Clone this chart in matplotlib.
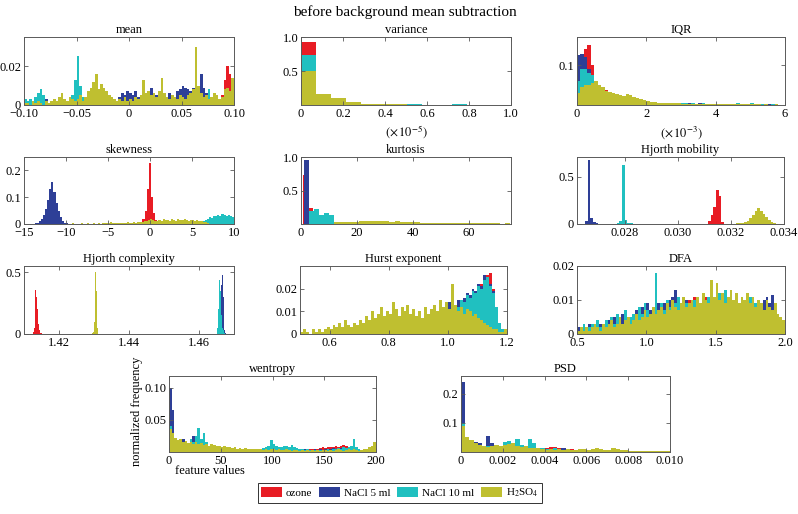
import numpy as np
import matplotlib
matplotlib.use('Agg')
import matplotlib.pyplot as plt
from matplotlib.patches import Patch

plt.rcParams['font.family'] = ['Liberation Serif', 'DejaVu Serif']
plt.rcParams['mathtext.fontset'] = 'stix'

series_names = ['ozone', 'NaCl 5 ml', 'NaCl 10 ml', r'H$_2$SO$_4$']
series_colors = ['#e81c24', '#2e3f97', '#20c0c0', '#bfbf30']

# ---- mean (bins of 0.0025 from -0.1)
mean_lo, mean_w = -0.1, 0.0025
mean_red = [0]*70 + [0, 0.004, 0.006, 0.005, 0.002, 0.005, 0.013, 0.020, 0.016, 0.012]
mean_blue = [0, 0, 0, 0, 0, 0, 0, 0, 0.003, 0,
             0.001, 0, 0, 0, 0, 0, 0, 0, 0, 0,
             0, 0, 0, 0, 0, 0, 0, 0, 0, 0,
             0, 0, 0, 0, 0, 0, 0.004, 0.006, 0.005, 0.007,
             0.006, 0.005, 0.007, 0.004, 0.003, 0.006, 0.004, 0.007, 0.009, 0.006,
             0.005, 0.004, 0.005, 0.003, 0.004, 0.006, 0.005, 0.004, 0.007, 0.008,
             0.010, 0.009, 0.008, 0.007, 0.009, 0.012, 0.010, 0.016, 0.009, 0.006,
             0.004, 0.002, 0, 0, 0, 0, 0, 0, 0, 0]
mean_cyan = [0.003, 0.002, 0.003, 0.002, 0.004, 0.006, 0.008, 0.005, 0.002, 0.001,
             0, 0.001, 0, 0.002, 0.001, 0, 0.001, 0.002, 0.005, 0.013,
             0.025, 0.010, 0.004, 0.003, 0.001, 0, 0, 0.001, 0, 0,
             0, 0, 0, 0.001, 0, 0, 0, 0, 0, 0] + [0]*29 + [0.004, 0.008, 0.003] + [0]*8
mean_olive = [0.001, 0.001, 0, 0.002, 0.001, 0.002, 0.001, 0, 0.002, 0.001,
              0.002, 0.003, 0.002, 0.004, 0.006, 0.003, 0.002, 0.004, 0.003, 0.002,
              0.003, 0.005, 0.002, 0.004, 0.007, 0.009, 0.012, 0.016, 0.008, 0.011,
              0.009, 0.007, 0.005, 0.004, 0.003, 0.002, 0.003, 0.002, 0.004, 0.002,
              0.003, 0.002, 0.004, 0.003, 0.005, 0.013, 0.006, 0.007, 0.005, 0.006,
              0.004, 0.007, 0.014, 0.006, 0.004, 0.003, 0.005, 0.004, 0.003, 0.005,
              0.004, 0.003, 0.005, 0.006, 0.008, 0.030, 0.010, 0.006, 0.004, 0.005,
              0.003, 0.004, 0.006, 0.005, 0.003, 0.004, 0.008, 0.009, 0.007, 0.014]

# ---- variance (x in units of 1e-5)
var_lo, var_w = 0.0, 0.072
var_red = [0.92, 0.03, 0.03, 0.01, 0.005, 0.003, 0.002, 0.001, 0, 0, 0, 0]
var_blue = [0.70, 0.05, 0.04, 0.03, 0.01, 0.01, 0.005, 0.005, 0.004, 0.003, 0.002, 0.002]
var_cyan = [0.73, 0.05, 0.03, 0.02, 0.015, 0.015, 0.01, 0.01, 0.005, 0.005, 0.008, 0.006]
var_olive = [0.50, 0.16, 0.11, 0.05, 0.02, 0.01, 0.01, 0.005, 0.005, 0.005, 0.003, 0.003]

# ---- IQR (x in units of 1e-3)
iqr_lo, iqr_w = 0.0, 0.1
iqr_red = [0, 0.12, 0.14, 0.15, 0.10, 0.06, 0.04, 0.03, 0.038, 0.025,
           0.015, 0.012, 0.01, 0.009, 0.008, 0.007, 0.006, 0.005, 0.005, 0.004,
           0.004, 0.003, 0.003, 0.003, 0.002, 0.002, 0.002, 0.002, 0.001, 0.001,
           0.001, 0.001, 0, 0.001, 0, 0.001, 0, 0, 0.001, 0] + [0]*20
iqr_blue = [0.125, 0.127, 0.12, 0.09, 0.07, 0.05, 0.04, 0.03, 0.025, 0.022,
            0.02, 0.018, 0.015, 0.013, 0.011, 0.01, 0.009, 0.008, 0.007, 0.006,
            0.006, 0.005, 0.005, 0.006, 0.005, 0.004, 0.005, 0.004, 0.004, 0.006,
            0.004, 0.003, 0.004, 0.003, 0.003, 0.004, 0.003, 0.003, 0.002, 0.003,
            0.003, 0.002, 0.003, 0.002, 0.003, 0.002, 0.002, 0.003, 0.002, 0.002,
            0.002, 0.002, 0.001, 0.002, 0.001, 0.002, 0.001, 0.001, 0.001, 0.001]
iqr_cyan = [0.06, 0.09, 0.09, 0.08, 0.075, 0.06, 0.05, 0.04, 0.035, 0.03,
            0.025, 0.022, 0.02, 0.017, 0.015, 0.013, 0.012, 0.01, 0.009, 0.008,
            0.007, 0.007, 0.006, 0.006, 0.005, 0.005, 0.005, 0.004, 0.004, 0.005,
            0.004, 0.004, 0.003, 0.004, 0.003, 0.003, 0.004, 0.003, 0.003, 0.003,
            0.003, 0.003, 0.002, 0.003, 0.003, 0.002, 0.005, 0.003, 0.002, 0.003,
            0.005, 0.002, 0.002, 0.002, 0.002, 0.001, 0.002, 0.001, 0.001, 0.001]
iqr_olive = [0.03, 0.045, 0.05, 0.05, 0.055, 0.06, 0.05, 0.045, 0.035, 0.033,
             0.03, 0.028, 0.025, 0.022, 0.027, 0.025, 0.02, 0.018, 0.016, 0.012,
             0.01, 0.008, 0.007, 0.006, 0.006, 0.005, 0.005, 0.004, 0.004, 0.004,
             0.003, 0.003, 0.003, 0.003, 0.003, 0.003, 0.002, 0.003, 0.002, 0.002,
             0.002, 0.002, 0.002, 0.002, 0.002, 0.002, 0.002, 0.002, 0.002, 0.002,
             0.002, 0.002, 0.002, 0.001, 0.002, 0.001, 0.001, 0.002, 0.001, 0.001]

# ---- skewness (bins of 0.25)
skew_w = 0.25
skew_red_start = -1.4
skew_red = [0.003, 0.008, 0.02, 0.05, 0.13, 0.228, 0.10, 0.04, 0.015, 0.005]
skew_blue_start = -13.75
skew_blue = [0.002, 0.005, 0.012, 0.02, 0.035, 0.055, 0.09, 0.13, 0.155, 0.12,
             0.08, 0.05, 0.025, 0.01, 0.004, 0.002]
skew_cyan_start = 5.5
skew_cyan = [0.003, 0.005, 0.008, 0.012, 0.015, 0.02, 0.025, 0.022, 0.03, 0.028,
             0.035, 0.03, 0.038, 0.032, 0.028, 0.035, 0.03, 0.025]
skew_olive_start = -10.0
skew_olive = [0.001, 0.0, 0.001, 0.002, 0.001, 0.0, 0.001, 0.002, 0.001, 0.001,
              0.002, 0.001, 0.0, 0.002, 0.001, 0.002, 0.001, 0.002, 0.003, 0.002,
              0.004, 0.007, 0.003, 0.002, 0.003, 0.004, 0.003, 0.005, 0.004, 0.006,
              0.005, 0.004, 0.006, 0.005, 0.008, 0.007, 0.009, 0.01, 0.012, 0.015,
              0.018, 0.014, 0.01, 0.012, 0.015, 0.013, 0.017, 0.014,
              0.016, 0.013, 0.018, 0.015, 0.012, 0.017, 0.014, 0.016,
              0.018, 0.015, 0.013, 0.016, 0.014, 0.012, 0.015, 0.013,
              0.01, 0.008, 0.006, 0.004]

# ---- kurtosis (bins of 1.8)
kurt_w = 1.8
kurt_red_start = 0.6
kurt_red = [0.73, 0.24, 0.02, 0.01, 0.005]
kurt_blue_start = 1.0
kurt_blue = [0.96, 0.03, 0.01]
kurt_cyan_start = 2.8
kurt_cyan = [0.19, 0.22, 0.14, 0.16, 0.13, 0.03, 0.02, 0.015, 0.01]
kurt_olive_start = 11.8
kurt_olive = [0.03, 0.035, 0.03, 0.032, 0.035, 0.04, 0.038, 0.045, 0.05, 0.042,
              0.04, 0.036, 0.038, 0.034, 0.03, 0.028, 0.025, 0.022, 0.02, 0.018,
              0.02, 0.016, 0.015, 0.018, 0.012, 0.014, 0.01, 0.012, 0.01, 0.008,
              0.01, 0.008, 0.009, 0.007, 0.008]

# ---- Hjorth mobility (bins of 1e-4)
mob_w = 0.0001
mob_red_start = 0.03114
mob_red = [0.03, 0.10, 0.18, 0.36, 0.30, 0.02]
mob_blue_start = 0.0264
mob_blue = [0.005, 0.03, 0.68, 0.06, 0.025, 0.01, 0.005, 0.002]
mob_cyan_start = 0.0276
mob_cyan = [0.004, 0.015, 0.035, 0.62, 0.04, 0.015, 0.008, 0.005, 0.003, 0.002, 0.001]
mob_olive_start = 0.0322
mob_olive = [0.006, 0.01, 0.013, 0.022, 0.035, 0.06, 0.10, 0.14, 0.17, 0.14,
             0.11, 0.075, 0.045, 0.025, 0.012, 0.005]

# ---- Hjorth complexity (bins of 2.5e-4)
cpx_w = 0.00025
cpx_red_start = 1.4125
cpx_red = [0.02, 0.05, 0.15, 0.355, 0.30, 0.20, 0.08, 0.03, 0.01, 0.005, 0.003]
cpx_blue_start = 1.4655
cpx_blue = [0.01, 0.05, 0.15, 0.40, 0.478, 0.30, 0.10, 0.03, 0.01]
cpx_cyan_start = 1.4650
cpx_cyan = [0.02, 0.05, 0.20, 0.437, 0.35, 0.15, 0.05, 0.03, 0.02, 0.01]
cpx_olive_start = 1.4295
cpx_olive = [0.005, 0.02, 0.10, 0.50, 0.35, 0.05, 0.01]

# ---- Hurst exponent (bins of 0.01 from 0.5)
hurst_lo, hurst_w = 0.5, 0.01
hurst_red = [0, 0, 0.001, 0, 0, 0, 0.001, 0, 0, 0,
             0.001, 0, 0, 0.001, 0, 0, 0.001, 0, 0, 0,
             0, 0.001, 0, 0, 0.001, 0, 0, 0.001, 0, 0,
             0.001, 0, 0, 0.001, 0, 0.001, 0, 0, 0.001, 0,
             0.001, 0.002, 0.002, 0.003, 0.004, 0.003, 0.005, 0.006, 0.007, 0.008,
             0.009, 0.010, 0.011, 0.012, 0.013, 0.014, 0.015, 0.016, 0.018, 0.017,
             0.020, 0.022, 0.024, 0.026, 0.027, 0.020, 0.012, 0.004, 0, 0]
hurst_blue = [0, 0.001, 0, 0, 0.001, 0, 0, 0, 0.001, 0,
              0, 0.001, 0, 0, 0.001, 0, 0, 0.001, 0, 0,
              0.001, 0, 0.001, 0, 0, 0.002, 0, 0.001, 0, 0.001,
              0.002, 0, 0.001, 0.002, 0, 0.001, 0.002, 0.001, 0.002, 0.001,
              0.002, 0.003, 0.004, 0.003, 0.006, 0.007, 0.006, 0.009, 0.011, 0.010,
              0.014, 0.011, 0.012, 0.015, 0.013, 0.016, 0.018, 0.017, 0.020, 0.019,
              0.022, 0.021, 0.026, 0.024, 0.022, 0.019, 0.010, 0.004, 0.001, 0]
hurst_cyan = [0.001, 0, 0.001, 0, 0, 0.001, 0, 0, 0.001, 0,
              0.002, 0.001, 0, 0.001, 0.001, 0, 0.002, 0.001, 0, 0.001,
              0.001, 0.002, 0, 0.001, 0.002, 0.001, 0.001, 0.002, 0.001, 0.002,
              0.001, 0.002, 0.002, 0.001, 0.003, 0.002, 0.001, 0.002, 0.003, 0.002,
              0.003, 0.004, 0.003, 0.005, 0.006, 0.005, 0.007, 0.008, 0.010, 0.009,
              0.011, 0.010, 0.013, 0.012, 0.015, 0.014, 0.017, 0.016, 0.019, 0.018,
              0.021, 0.020, 0.024, 0.025, 0.021, 0.018, 0.012, 0.005, 0.002, 0.001]
hurst_olive = [0.001, 0.002, 0.001, 0.0, 0.002, 0.001, 0.002, 0.001, 0.002, 0.003,
               0.002, 0.004, 0.003, 0.005, 0.003, 0.006, 0.004, 0.003, 0.005, 0.004,
               0.006, 0.005, 0.008, 0.006, 0.010, 0.007, 0.009, 0.012, 0.008, 0.010,
               0.009, 0.014, 0.011, 0.008, 0.012, 0.010, 0.013, 0.009, 0.011, 0.008,
               0.010, 0.007, 0.012, 0.009, 0.011, 0.013, 0.010, 0.015, 0.012, 0.014,
               0.011, 0.022, 0.013, 0.010, 0.012, 0.009, 0.011, 0.010, 0.008, 0.009,
               0.007, 0.006, 0.005, 0.004, 0.003, 0.002, 0.002, 0.001, 0.001, 0.002]

# ---- DFA (bins of 0.02 from 0.5)
dfa_lo, dfa_w = 0.5, 0.02
dfa_red = [0.001, 0.001, 0.002, 0.001, 0.002, 0.001, 0.002, 0.001, 0.002, 0.002,
           0.002, 0.003, 0.002, 0.003, 0.004, 0.003, 0.004, 0.003, 0.005, 0.004,
           0.005, 0.004, 0.006, 0.005, 0.006, 0.007, 0.006, 0.007, 0.008, 0.007,
           0.008, 0.007, 0.009, 0.008, 0.009, 0.010, 0.008, 0.009, 0.010, 0.009,
           0.010, 0.009, 0.011, 0.010, 0.009, 0.010, 0.011, 0.010, 0.009, 0.010,
           0.011, 0.009, 0.010, 0.008, 0.009, 0.010, 0.009, 0.008, 0.009, 0.008,
           0.008, 0.009, 0.007, 0.008, 0.007, 0.008, 0.007, 0.006, 0.007, 0.006,
           0.006, 0.005, 0.005, 0.004, 0.003]
dfa_blue = [0.002, 0.001, 0.002, 0.001, 0.003, 0.002, 0.001, 0.002, 0.003, 0.002,
            0.003, 0.004, 0.002, 0.005, 0.003, 0.004, 0.006, 0.003, 0.005, 0.004,
            0.005, 0.007, 0.006, 0.008, 0.005, 0.009, 0.007, 0.006, 0.008, 0.009,
            0.007, 0.009, 0.008, 0.010, 0.011, 0.013, 0.009, 0.008, 0.011, 0.010,
            0.009, 0.008, 0.010, 0.007, 0.009, 0.008, 0.010, 0.011, 0.009, 0.010,
            0.008, 0.010, 0.009, 0.007, 0.010, 0.009, 0.008, 0.010, 0.009, 0.008,
            0.009, 0.008, 0.010, 0.009, 0.007, 0.009, 0.008, 0.010, 0.011, 0.009,
            0.0115, 0.008, 0.006, 0.005, 0.004]
dfa_cyan = [0.001, 0.002, 0.003, 0.001, 0.002, 0.003, 0.002, 0.004, 0.002, 0.003,
            0.004, 0.002, 0.005, 0.003, 0.006, 0.004, 0.003, 0.007, 0.004, 0.005,
            0.006, 0.005, 0.008, 0.006, 0.009, 0.007, 0.006, 0.008, 0.018, 0.007,
            0.009, 0.007, 0.010, 0.008, 0.006, 0.009, 0.011, 0.008, 0.007, 0.009,
            0.008, 0.007, 0.010, 0.009, 0.008, 0.010, 0.007, 0.011, 0.009, 0.008,
            0.010, 0.012, 0.008, 0.013, 0.009, 0.011, 0.010, 0.008, 0.009, 0.010,
            0.008, 0.009, 0.011, 0.007, 0.009, 0.010, 0.008, 0.006, 0.007, 0.008,
            0.006, 0.007, 0.005, 0.004, 0.003]
dfa_olive = [0.001, 0.002, 0.001, 0.002, 0.001, 0.002, 0.003, 0.002, 0.001, 0.003,
             0.002, 0.003, 0.004, 0.002, 0.003, 0.005, 0.003, 0.004, 0.005, 0.003,
             0.004, 0.006, 0.004, 0.005, 0.007, 0.005, 0.006, 0.008, 0.006, 0.007,
             0.008, 0.006, 0.009, 0.007, 0.010, 0.008, 0.007, 0.009, 0.011, 0.008,
             0.009, 0.010, 0.008, 0.011, 0.009, 0.012, 0.010, 0.009, 0.016, 0.011,
             0.015, 0.010, 0.012, 0.009, 0.011, 0.013, 0.010, 0.012, 0.009, 0.011,
             0.010, 0.012, 0.009, 0.011, 0.008, 0.010, 0.009, 0.007, 0.010, 0.008,
             0.007, 0.009, 0.006, 0.005, 0.004]

# ---- wentropy (bins of 2.5 from 0)
went_lo, went_w = 0.0, 2.5
went_red = [0.02, 0.015, 0.01, 0.008, 0.006, 0.005, 0.006, 0.004, 0.005, 0.006,
            0.005, 0.006, 0.004, 0.005, 0.006, 0.008, 0.013, 0.010, 0.006, 0.004,
            0.004, 0.003, 0.003, 0.002, 0.003, 0.002, 0.002, 0.002, 0.001, 0.002,
            0.002, 0.001, 0.002, 0.002, 0.001, 0.002, 0.003, 0.002, 0.003, 0.003,
            0.004, 0.003, 0.004, 0.005, 0.004, 0.005, 0.004, 0.005, 0.006, 0.005,
            0.004, 0.003, 0.004, 0.003, 0.004, 0.005, 0.004, 0.005, 0.006, 0.007,
            0.006, 0.007, 0.008, 0.007, 0.009, 0.008, 0.010, 0.011, 0.010, 0.008,
            0.007, 0.006, 0.005, 0.004, 0.003, 0.002, 0.002, 0.001, 0.001, 0.001]
went_blue = [0.10, 0.065, 0.02, 0.012, 0.008, 0.02, 0.01, 0.006, 0.012, 0.025,
             0.018, 0.029, 0.012, 0.008, 0.006, 0.005, 0.004, 0.006, 0.003, 0.004,
             0.003, 0.004, 0.002, 0.003, 0.002, 0.003, 0.002, 0.002, 0.003, 0.002,
             0.002, 0.003, 0.002, 0.004, 0.003, 0.002, 0.003, 0.004, 0.003, 0.005,
             0.006, 0.005, 0.007, 0.006, 0.008, 0.009, 0.008, 0.007, 0.006, 0.005,
             0.004, 0.003, 0.004, 0.003, 0.002, 0.003, 0.004, 0.003, 0.004, 0.003,
             0.004, 0.005, 0.004, 0.006, 0.005, 0.004, 0.006, 0.005, 0.004, 0.005,
             0.004, 0.003, 0.002, 0.003, 0.002, 0.001, 0.002, 0.001, 0.002, 0.003]
went_cyan = [0.04, 0.03, 0.015, 0.01, 0.012, 0.008, 0.015, 0.01, 0.02, 0.015,
             0.025, 0.037, 0.02, 0.03, 0.015, 0.008, 0.006, 0.005, 0.007, 0.004,
             0.004, 0.003, 0.005, 0.003, 0.004, 0.003, 0.002, 0.003, 0.002, 0.003,
             0.003, 0.002, 0.004, 0.003, 0.004, 0.005, 0.006, 0.008, 0.010, 0.018,
             0.012, 0.009, 0.008, 0.007, 0.009, 0.010, 0.008, 0.011, 0.007, 0.006,
             0.005, 0.004, 0.003, 0.004, 0.003, 0.002, 0.003, 0.002, 0.003, 0.002,
             0.003, 0.004, 0.003, 0.005, 0.004, 0.006, 0.005, 0.007, 0.006, 0.008,
             0.010, 0.020, 0.008, 0.005, 0.003, 0.002, 0.003, 0.002, 0.004, 0.006]
went_olive = [0.035, 0.03, 0.022, 0.018, 0.02, 0.015, 0.017, 0.014, 0.016, 0.013,
              0.015, 0.012, 0.014, 0.011, 0.013, 0.010, 0.012, 0.011, 0.009, 0.010,
              0.008, 0.009, 0.007, 0.008, 0.006, 0.007, 0.005, 0.006, 0.005, 0.006,
              0.005, 0.004, 0.005, 0.004, 0.005, 0.004, 0.003, 0.004, 0.003, 0.004,
              0.004, 0.003, 0.004, 0.003, 0.003, 0.004, 0.003, 0.002, 0.003, 0.003,
              0.002, 0.003, 0.002, 0.003, 0.002, 0.003, 0.002, 0.003, 0.002, 0.003,
              0.003, 0.002, 0.003, 0.002, 0.003, 0.004, 0.003, 0.002, 0.003, 0.004,
              0.003, 0.004, 0.003, 0.002, 0.003, 0.004, 0.005, 0.007, 0.010, 0.015]

# ---- PSD (bins of 0.0002 from 0)
psd_lo, psd_w = 0.0, 0.0002
psd_red = [0.05, 0.03, 0.02, 0.015, 0.012, 0.01, 0.012, 0.01, 0.008, 0.01,
           0.012, 0.01, 0.008, 0.01, 0.012, 0.01, 0.012, 0.011, 0.01, 0.012,
           0.014, 0.018, 0.018, 0.012, 0.01, 0.008, 0.009, 0.007, 0.006, 0.005,
           0.005, 0.004, 0.005, 0.004, 0.003, 0.004, 0.003, 0.003, 0.002, 0.003,
           0.002, 0.003, 0.002, 0.002, 0.001, 0.002, 0.002, 0.001, 0.002, 0.003]
psd_blue = [0.24, 0.02, 0.015, 0.035, 0.03, 0.02, 0.055, 0.03, 0.025, 0.02,
            0.018, 0.02, 0.015, 0.012, 0.02, 0.015, 0.01, 0.012, 0.008, 0.01,
            0.008, 0.006, 0.01, 0.007, 0.012, 0.006, 0.005, 0.004, 0.005, 0.003,
            0.004, 0.003, 0.004, 0.003, 0.002, 0.003, 0.002, 0.003, 0.002, 0.002,
            0.002, 0.001, 0.002, 0.001, 0.002, 0.001, 0.002, 0.001, 0.001, 0.002]
psd_cyan = [0.10, 0.03, 0.025, 0.02, 0.015, 0.018, 0.02, 0.015, 0.012, 0.01,
            0.035, 0.038, 0.03, 0.043, 0.025, 0.02, 0.045, 0.03, 0.015, 0.012,
            0.01, 0.008, 0.012, 0.009, 0.007, 0.006, 0.008, 0.005, 0.004, 0.005,
            0.004, 0.003, 0.004, 0.003, 0.002, 0.003, 0.002, 0.002, 0.003, 0.002,
            0.002, 0.001, 0.002, 0.001, 0.001, 0.002, 0.001, 0.001, 0.001, 0.001]
psd_olive = [0.09, 0.05, 0.04, 0.03, 0.025, 0.02, 0.018, 0.022, 0.025, 0.02,
             0.025, 0.028, 0.03, 0.022, 0.018, 0.02, 0.015, 0.012, 0.014, 0.01,
             0.008, 0.01, 0.007, 0.009, 0.008, 0.01, 0.007, 0.008, 0.009, 0.01,
             0.008, 0.009, 0.012, 0.01, 0.008, 0.007, 0.012, 0.009, 0.007, 0.006,
             0.005, 0.004, 0.005, 0.004, 0.003, 0.004, 0.003, 0.004, 0.003, 0.004]


def draw_hist(ax, start, width, heights, color):
    heights = np.asarray(heights, dtype=float)
    edges = start + width * np.arange(len(heights) + 1)
    ax.stairs(heights, edges, fill=True, color=color, linewidth=0)


def style(ax, title, xlim, ylim, xticks, xlabels, yticks, ylabels):
    ax.set_xlim(xlim)
    ax.set_ylim(ylim)
    ax.set_xticks(xticks)
    ax.set_xticklabels(xlabels)
    ax.set_yticks(yticks)
    ax.set_yticklabels(ylabels)
    ax.set_title(title, fontsize=9, pad=3)
    ax.tick_params(direction='in', length=3, width=0.6, top=True, right=True,
                   labelsize=9, pad=2, colors='0.35', labelcolor='black')
    for sp in ax.spines.values():
        sp.set_color('0.35')
        sp.set_linewidth(0.7)


fig = plt.figure(figsize=(7.98, 5.14), dpi=100)
W, H = 798.0, 514.0


def add_axes(left, top, width, height):
    return fig.add_axes([left / W, 1 - (top + height) / H, width / W, height / H])


c = series_colors

# row 1
ax = add_axes(24, 37, 210, 68)
for vals, col in zip([mean_red, mean_blue, mean_cyan, mean_olive], c):
    draw_hist(ax, mean_lo, mean_w, vals, col)
style(ax, 'mean', (-0.1, 0.1), (0, 0.035), [-0.1, -0.05, 0, 0.05, 0.1],
      ['\u22120.10', '\u22120.05', '0', '0.05', '0.10'], [0, 0.02], ['0', '0.02'])

ax = add_axes(301, 37, 210, 68)
for vals, col in zip([var_red, var_blue, var_cyan, var_olive], c):
    draw_hist(ax, var_lo, var_w, vals, col)
style(ax, 'variance', (0, 1.0), (0, 1.0), [0, 0.2, 0.4, 0.6, 0.8, 1.0],
      ['0', '0.2', '0.4', '0.6', '0.8', '1.0'], [0.5, 1.0], ['0.5', '1.0'])
ax.text(0.5, -0.40, r'$(\times\,10^{-5})$', transform=ax.transAxes,
        ha='center', va='center', fontsize=9)

ax = add_axes(577, 37, 208, 68)
for vals, col in zip([iqr_red, iqr_blue, iqr_cyan, iqr_olive], c):
    draw_hist(ax, iqr_lo, iqr_w, vals, col)
style(ax, 'IQR', (0, 6), (0, 0.17), [0, 2, 4, 6], ['0', '2', '4', '6'],
      [0.1], ['0.1'])
ax.text(0.5, -0.40, r'$(\times\,10^{-3})$', transform=ax.transAxes,
        ha='center', va='center', fontsize=9)

# row 2
ax = add_axes(24, 157, 210, 67)
draw_hist(ax, skew_red_start, skew_w, skew_red, c[0])
draw_hist(ax, skew_blue_start, skew_w, skew_blue, c[1])
draw_hist(ax, skew_cyan_start, skew_w, skew_cyan, c[2])
draw_hist(ax, skew_olive_start, skew_w, skew_olive, c[3])
style(ax, 'skewness', (-15, 10), (0, 0.25), [-15, -10, -5, 0, 5, 10],
      ['\u221215', '\u221210', '\u22125', '0', '5', '10'], [0, 0.1, 0.2],
      ['0', '0.1', '0.2'])

ax = add_axes(301, 157, 210, 67)
draw_hist(ax, kurt_red_start, kurt_w, kurt_red, c[0])
draw_hist(ax, kurt_blue_start, kurt_w, kurt_blue, c[1])
draw_hist(ax, kurt_cyan_start, kurt_w, kurt_cyan, c[2])
draw_hist(ax, kurt_olive_start, kurt_w, kurt_olive, c[3])
style(ax, 'kurtosis', (0, 75), (0, 1.0), [0, 20, 40, 60],
      ['0', '20', '40', '60'], [0.5, 1.0], ['0.5', '1.0'])

ax = add_axes(577, 157, 207, 67)
draw_hist(ax, mob_red_start, mob_w, mob_red, c[0])
draw_hist(ax, mob_blue_start, mob_w, mob_blue, c[1])
draw_hist(ax, mob_cyan_start, mob_w, mob_cyan, c[2])
draw_hist(ax, mob_olive_start, mob_w, mob_olive, c[3])
style(ax, 'Hjorth mobility', (0.0262, 0.034), (0, 0.71),
      [0.028, 0.030, 0.032, 0.034], ['0.028', '0.030', '0.032', '0.034'],
      [0, 0.5], ['0', '0.5'])

# row 3
ax = add_axes(24, 266, 210, 68)
draw_hist(ax, cpx_red_start, cpx_w, cpx_red, c[0])
draw_hist(ax, cpx_blue_start, cpx_w, cpx_blue, c[1])
draw_hist(ax, cpx_cyan_start, cpx_w, cpx_cyan, c[2])
draw_hist(ax, cpx_olive_start, cpx_w, cpx_olive, c[3])
style(ax, 'Hjorth complexity', (1.41, 1.47), (0, 0.55), [1.42, 1.44, 1.46],
      ['1.42', '1.44', '1.46'], [0, 0.5], ['0', '0.5'])

ax = add_axes(300, 266, 207, 68)
for vals, col in zip([hurst_red, hurst_blue, hurst_cyan, hurst_olive], c):
    draw_hist(ax, hurst_lo, hurst_w, vals, col)
style(ax, 'Hurst exponent', (0.5, 1.2), (0, 0.03), [0.6, 0.8, 1.0, 1.2],
      ['0.6', '0.8', '1.0', '1.2'], [0, 0.01, 0.02], ['0', '0.01', '0.02'])

ax = add_axes(577, 266, 208, 68)
for vals, col in zip([dfa_red, dfa_blue, dfa_cyan, dfa_olive], c):
    draw_hist(ax, dfa_lo, dfa_w, vals, col)
style(ax, 'DFA', (0.5, 2.0), (0, 0.02), [0.5, 1.0, 1.5, 2.0],
      ['0.5', '1.0', '1.5', '2.0'], [0, 0.01, 0.02], ['0', '0.01', '0.02'])

# row 4
ax = add_axes(169, 376, 207, 76)
for vals, col in zip([went_red, went_blue, went_cyan, went_olive], c):
    draw_hist(ax, went_lo, went_w, vals, col)
style(ax, 'wentropy', (0, 200), (0, 0.118), [0, 50, 100, 150, 200],
      ['0', '50', '100', '150', '200'], [0.05, 0.10], ['0.05', '0.10'])

ax = add_axes(461, 376, 209, 76)
for vals, col in zip([psd_red, psd_blue, psd_cyan, psd_olive], c):
    draw_hist(ax, psd_lo, psd_w, vals, col)
style(ax, 'PSD', (0, 0.01), (0, 0.26), [0, 0.002, 0.004, 0.006, 0.008, 0.010],
      ['0', '0.002', '0.004', '0.006', '0.008', '0.010'], [0.1, 0.2],
      ['0.1', '0.2'])

fig.text(405 / W, 1 - 12 / H, 'before background mean subtraction',
         ha='center', va='center', fontsize=11)
fig.text(137 / W, 1 - 411 / H, 'normalized frequency', rotation=90,
         ha='center', va='center', fontsize=9)
fig.text(210 / W, 1 - 471 / H, 'feature values', ha='center', va='center',
         fontsize=9)

handles = [Patch(facecolor=col, edgecolor='none') for col in series_colors]
leg = fig.legend(handles, series_names, loc='center', ncol=4,
                 bbox_to_anchor=(400 / W, 1 - 493 / H), frameon=True,
                 fancybox=False, edgecolor='black', fontsize=8,
                 handlelength=1.9, handleheight=0.9, handletextpad=0.35,
                 columnspacing=0.6, borderpad=0.3, borderaxespad=0)
leg.get_frame().set_linewidth(0.7)

fig.savefig('out.png', dpi=100)
